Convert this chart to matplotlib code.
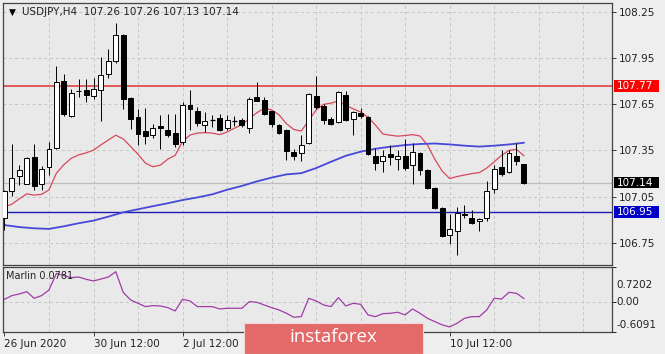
import matplotlib
matplotlib.use("Agg")
import matplotlib.pyplot as plt
import matplotlib.transforms as mtransforms
from matplotlib.patches import Rectangle

# H4 candles, USDJPY 26 Jun - 13 Jul 2020
opens = [106.913, 107.086, 107.181, 107.133, 107.31, 107.133, 107.241, 107.363, 107.80, 107.571,
         107.735, 107.741, 107.705, 107.743, 107.846, 107.932, 108.104, 107.69, 107.567, 107.477,
         107.449, 107.51, 107.485, 107.466, 107.406, 107.647, 107.604, 107.518, 107.546, 107.56,
         107.497, 107.544, 107.546, 107.497, 107.696, 107.681, 107.604, 107.513, 107.481, 107.342,
         107.331, 107.396, 107.703, 107.642, 107.556, 107.535, 107.713, 107.552, 107.595, 107.567,
         107.316, 107.282, 107.327, 107.294, 107.316, 107.252, 107.331, 107.224, 107.106, 106.972,
         106.801, 106.827, 106.938, 106.913, 106.891, 106.908, 107.101, 107.239, 107.209, 107.316,
         107.26]
highs = [107.09, 107.39, 107.256, 107.305, 107.395, 107.25, 107.406, 107.90, 107.85, 107.75,
         107.814, 107.814, 107.82, 107.958, 108.01, 108.18, 108.11, 107.695, 107.62, 107.625,
         107.525, 107.578, 107.589, 107.59, 107.664, 107.745, 107.63, 107.60, 107.578, 107.59,
         107.582, 107.575, 107.56, 107.70, 107.797, 107.70, 107.61, 107.52, 107.49, 107.36,
         107.449, 107.725, 107.835, 107.65, 107.565, 107.739, 107.735, 107.61, 107.625, 107.575,
         107.363, 107.35, 107.385, 107.35, 107.423, 107.396, 107.34, 107.23, 107.11, 106.98,
         106.934, 106.981, 106.994, 106.96, 106.91, 107.149, 107.256, 107.352, 107.35, 107.396,
         107.26]
lows = [106.829, 107.054, 107.127, 107.13, 107.095, 107.095, 107.191, 107.36, 107.571, 107.567,
        107.70, 107.664, 107.685, 107.542, 107.82, 107.92, 107.62, 107.492, 107.385, 107.39,
        107.428, 107.359, 107.44, 107.374, 107.385, 107.481, 107.51, 107.473, 107.503, 107.475,
        107.481, 107.51, 107.505, 107.466, 107.67, 107.58, 107.50, 107.455, 107.288, 107.288,
        107.282, 107.39, 107.62, 107.524, 107.515, 107.53, 107.54, 107.453, 107.56, 107.32,
        107.224, 107.209, 107.256, 107.22, 107.225, 107.131, 107.19, 107.096, 106.966, 106.784,
        106.741, 106.672, 106.91, 106.87, 106.827, 106.891, 107.074, 107.181, 107.20, 107.256,
        107.13]
closes = [107.086, 107.17, 107.22, 107.299, 107.12, 107.228, 107.359, 107.793, 107.584, 107.724,
          107.74, 107.711, 107.752, 107.842, 107.932, 108.104, 107.685, 107.556, 107.46, 107.445,
          107.497, 107.497, 107.449, 107.389, 107.647, 107.617, 107.531, 107.539, 107.544, 107.481,
          107.546, 107.545, 107.513, 107.685, 107.674, 107.589, 107.524, 107.466, 107.346, 107.316,
          107.385, 107.717, 107.632, 107.546, 107.524, 107.728, 107.546, 107.603, 107.574, 107.325,
          107.267, 107.316, 107.307, 107.316, 107.234, 107.342, 107.224, 107.106, 106.977, 106.795,
          106.837, 106.945, 106.93, 106.876, 106.906, 107.089, 107.23, 107.196, 107.331, 107.282,
          107.14]

ma_fast = [106.983, 107.00, 107.035, 107.067, 107.059, 107.064, 107.093, 107.202, 107.257, 107.299,
           107.321, 107.334, 107.352, 107.386, 107.418, 107.449, 107.425, 107.376, 107.325, 107.267,
           107.244, 107.254, 107.293, 107.318, 107.408, 107.45, 107.463, 107.466, 107.463, 107.453,
           107.47, 107.495, 107.518, 107.557, 107.595, 107.625, 107.614, 107.582, 107.524, 107.486,
           107.476, 107.544, 107.614, 107.65, 107.658, 107.672, 107.643, 107.621, 107.6, 107.566,
           107.515, 107.457, 107.449, 107.443, 107.447, 107.453, 107.444, 107.386, 107.293, 107.215,
           107.167, 107.18, 107.19, 107.199, 107.206, 107.235, 107.276, 107.318, 107.35, 107.357,
           107.316]
# slow MA read every second bar
ma_slow = [106.864, 106.851, 106.843, 106.839, 106.856, 106.876, 106.893, 106.919, 106.947, 106.967,
           106.987, 107.006, 107.027, 107.044, 107.064, 107.094, 107.119, 107.148, 107.173, 107.194,
           107.202, 107.235, 107.276, 107.315, 107.342, 107.361, 107.374, 107.385, 107.392, 107.395,
           107.389, 107.381, 107.375, 107.381, 107.389, 107.4]

marlin = [0.061, 0.136, 0.170, 0.217, 0.081, 0.136, 0.252, 0.592, 0.545, 0.504,
          0.517, 0.47, 0.436, 0.476, 0.517, 0.626, 0.204, 0.047, -0.021, -0.089,
          -0.069, -0.076, -0.11, -0.178, 0.061, 0.027, -0.089, -0.089, -0.089, -0.137,
          -0.123, -0.123, -0.123, 0.013, -0.001, -0.055, -0.11, -0.157, -0.226, -0.307,
          -0.294, 0.081, 0.027, -0.055, -0.089, 0.095, -0.076, -0.021, -0.042, -0.26,
          -0.294, -0.233, -0.226, -0.205, -0.26, -0.137, -0.226, -0.328, -0.396, -0.464,
          -0.505, -0.43, -0.328, -0.294, -0.294, -0.157, 0.081, 0.067, 0.204, 0.183,
          0.078]

price_ticks = [108.25, 107.95, 107.65, 107.35, 107.05, 106.75]
date_ticks = [0, 12, 24, 36, 48, 60]
# labels at 36 and 48 sit under the watermark in the original
date_labels = ["26 Jun 2020", "30 Jun 12:00", "2 Jul 12:00", "", "", "10 Jul 12:00"]
resistance = 107.77
support = 106.95
last_price = 107.14

W, H = 665, 354
BG = "#e9e9e9"
GRID = "#c4c4c4"
fig = plt.figure(figsize=(W / 100, H / 100), dpi=100, facecolor="#eeeeee")

ax = fig.add_axes([3 / W, 1 - 265 / H, 609 / W, 262 / H], facecolor=BG)
axi = fig.add_axes([3 / W, 1 - 332 / H, 609 / W, 65 / H], facecolor=BG)

xmin, xmax = -0.2, 81.88
n = len(closes)
idx = list(range(n))

# gridlines
for a in (ax, axi):
    for g in range(6, 82, 6):
        a.axvline(g, color=GRID, lw=0.7, ls=(0, (3, 3)), zorder=0)
    for s in a.spines.values():
        s.set_color("#444444")
        s.set_linewidth(0.9)
    a.set_xlim(xmin, xmax)
for p in price_ticks:
    ax.axhline(p, color=GRID, lw=0.7, ls=(0, (3, 3)), zorder=0)
axi.axhline(0, color=GRID, lw=0.7, ls=(0, (3, 3)), zorder=0)

# level lines
ax.axhline(resistance, color="#e25a5a", lw=1.4, zorder=1)
ax.axhline(support, color="#1a1ab4", lw=1.0, zorder=1)
ax.axhline(last_price, color="#bdbdbd", lw=0.9, zorder=1)

# moving averages
ax.plot(idx, ma_fast, color="#d8485a", lw=0.9, zorder=2)
ax.plot(list(range(0, n, 2)), ma_slow, color="#4848d8", lw=1.3, zorder=2)

# candles
for i in idx:
    o, h, l, c = opens[i], highs[i], lows[i], closes[i]
    ax.vlines(i, l, h, color="black", lw=0.7, zorder=3)
    lo, hi = min(o, c), max(o, c)
    if hi - lo < 0.004:
        ax.hlines(o, i - 0.33, i + 0.33, color="black", lw=0.9, zorder=4)
    else:
        ax.add_patch(Rectangle((i - 0.33, lo), 0.66, hi - lo,
                               facecolor="white" if c >= o else "black",
                               edgecolor="black", lw=0.7, zorder=4))

ax.set_ylim(106.604, 108.31)
ax.yaxis.tick_right()
ax.set_yticks(price_ticks)
ax.set_yticklabels([f"{p:.2f}" for p in price_ticks])
ax.tick_params(axis="y", length=3, width=0.6, pad=2, labelsize=7.5, colors="#222222")
ax.set_xticks([])

# marlin oscillator
axi.plot(idx, marlin, color="#a03ca8", lw=0.9)
axi.set_ylim(-0.607, 0.722)
axi.yaxis.tick_right()
axi.set_yticks([0.7202, 0.0, -0.6091])
axi.set_yticklabels([])
axi.tick_params(axis="y", length=3, width=0.6)
trans_i = mtransforms.blended_transform_factory(axi.transAxes, axi.transData)
for val, pos in [("0.7202", 0.354), ("0.00", 0.0), ("-0.6091", -0.464)]:
    axi.text(1.008, pos, val, transform=trans_i, fontsize=7.5, va="center", ha="left", color="#222222")
axi.set_xticks(date_ticks)
axi.set_xticklabels(date_labels, ha="left")
axi.tick_params(axis="x", length=3, width=0.6, pad=2, labelsize=7.5, colors="#222222")
axi.text(0.005, 0.86, "Marlin 0.0781", transform=axi.transAxes, fontsize=7, va="center", color="#222222")

# coloured price boxes on the right scale
def price_box(value, color):
    y = ax.transData.transform((0, value))[1] / (H)
    fig.patches.append(Rectangle((614 / W, y - 5.7 / H), 45 / W, 11.4 / H, transform=fig.transFigure,
                                 facecolor=color, edgecolor="none", zorder=5))
    fig.text(616.5 / W, y, f"{value:.2f}", fontsize=7.5, color="white", va="center", ha="left", zorder=6)

price_box(resistance, "#ff0000")
price_box(last_price, "#000000")
price_box(support, "#0000c8")

# header
ax.text(6 / 609, 1 - 9 / 262, "\u25bc", transform=ax.transAxes, fontsize=6.5, va="center", ha="left")
ax.text(19 / 609, 1 - 9 / 262, "USDJPY,H4  107.26 107.26 107.13 107.14", transform=ax.transAxes,
        fontsize=7.5, va="center", ha="left", color="#222222")

# watermark
fig.patches.append(Rectangle((243.5 / W, 0), 179 / W, 31.5 / H, transform=fig.transFigure,
                             facecolor="#e46a6a", edgecolor="#f4d4d4", lw=0.8, zorder=10))
fig.text(333 / W, 1 - 337 / H, "instaforex", fontsize=13.5, color="white", ha="center", va="center",
         family="Open Sans", zorder=11)

fig.savefig("out.png", dpi=100, facecolor=fig.get_facecolor())
